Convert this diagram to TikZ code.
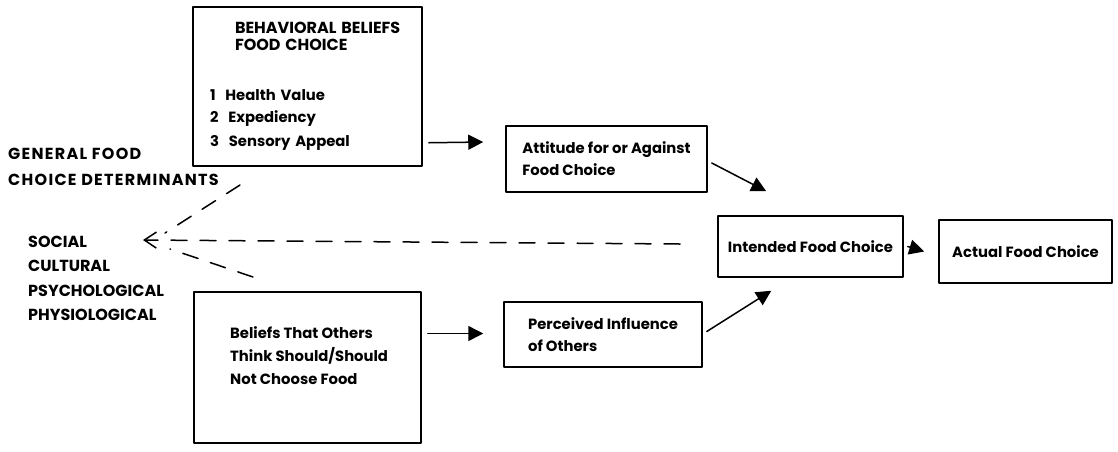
\documentclass[tikz,border=0pt]{standalone}
\usepackage{fontspec}
\setmainfont{Poppins}
\usetikzlibrary{arrows.meta}
\newcommand\bigcaps{\fontsize{16}{24.3}\selectfont\bfseries}
\begin{document}
\begin{tikzpicture}[x=1pt, y=-1pt, font=\fontsize{14.8}{22}\selectfont\bfseries, line join=round, line cap=round,
	box/.style={draw, line width=1.5pt, inner sep=0pt, align=left},
	arr/.style={line width=1.5pt, -{Triangle[length=15pt,width=15pt]}},
	dsh/.style={line width=1.5pt, dash pattern=on 16pt off 13pt}]
	\useasboundingbox (0,0) rectangle (1118,451);
	% boxes
	\node[box, minimum width=229pt, minimum height=159pt, text width=195pt] (BB) at (307.5,86.5)
		{\hspace*{25pt}{\bigcaps BEHAVIORAL BELIEFS}\\[-5pt]\hspace*{25pt}{\bigcaps FOOD CHOICE}\\[28pt]
		 1\ \ Health Value\\2\ \ Expediency\\[2pt]3\ \ Sensory Appeal};
	\node[box, minimum width=201pt, minimum height=66pt] (ATT) at (606.5,159) {Attitude for or Against\\Food Choice};
	\node[box, minimum width=185pt, minimum height=61pt] (INT) at (810.5,246.5) {Intended Food Choice};
	\node[box, minimum width=173pt, minimum height=63pt] (ACT) at (1025.5,251.5) {Actual Food Choice};
	\node[box, minimum width=198pt, minimum height=65pt] (PER) at (603,334.5) {Perceived Influence\\of Others};
	\node[box, minimum width=227pt, minimum height=151pt] (BO) at (307.5,367.5) {};
	\node[align=left, inner sep=0pt, anchor=north west] (BOtxt) at (230,326) {Beliefs That Others\\[1pt]Think Should/Should\\[1pt]Not Choose Food};
	% determinants
	\node[align=left, inner sep=0pt, anchor=north west, font=\bigcaps\addfontfeatures{LetterSpace=8}] (gen) at (8,148)
		{GENERAL FOOD\\[2pt]CHOICE DETERMINANTS};
	\node[align=left, inner sep=0pt, anchor=north west, font=\bigcaps] (det) at (28,236)
		{SOCIAL\\CULTURAL\\PSYCHOLOGICAL\\PHYSIOLOGICAL};
	\coordinate (tip) at (143,240);
	\coordinate (up) at (240,185);
	\coordinate (lo) at (253,277);
	\coordinate (mid) at (680,244);
	\draw[dsh, -{Straight Barb[length=12pt,width=16pt]}] (mid) -- (tip);
	\draw[dsh] (up) -- ([shift={(22,-7)}]tip);
	\draw[dsh] (lo) -- ([shift={(27,9)}]tip);
	% arrows
	\draw[arr] ([shift={(6,-24)}]BB.south east) -- ([shift={(-22,-17)}]ATT.west);
	\draw[arr] ([shift={(4,4)}]ATT.east) -- ([shift={(49,-24)}]INT.north west);
	\draw[arr] ([shift={(4,-3)}]PER.east) -- ([shift={(54,13)}]INT.south west);
	\draw[arr] ([xshift=4pt]INT.east) -- ([xshift=-14pt]ACT.west);
	\draw[arr] ([shift={(6,-34)}]BO.east) -- ([shift={(-20,-1)}]PER.west);
\end{tikzpicture}
\end{document}
